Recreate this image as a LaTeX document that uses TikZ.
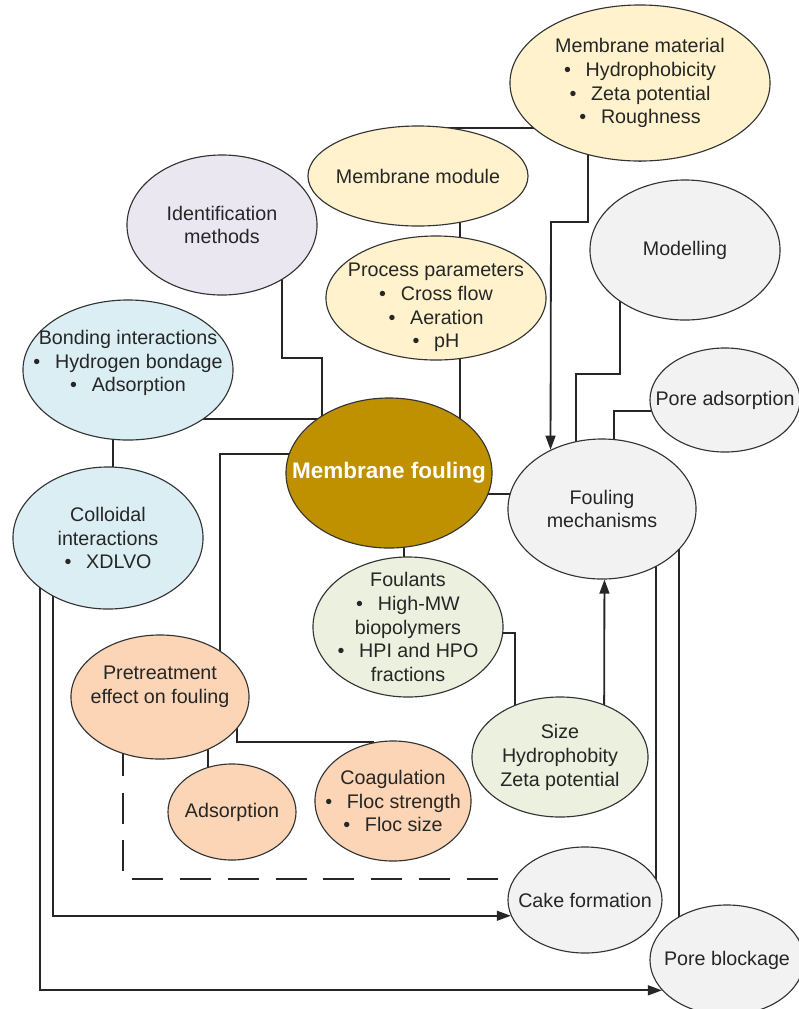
\documentclass[tikz,border=0pt]{standalone}
\usepackage{fontspec}
\setmainfont{Liberation Sans}
\usetikzlibrary{shapes.geometric,calc,backgrounds,arrows.meta}
\definecolor{matyellow}{HTML}{FFF2CC}
\definecolor{idlilac}{HTML}{EAE7F1}
\definecolor{bondblue}{HTML}{DAEEF3}
\definecolor{foulgold}{HTML}{BF9000}
\definecolor{fntgreen}{HTML}{EBF1DE}
\definecolor{prepeach}{HTML}{FBD5B5}
\definecolor{mechgray}{HTML}{F2F2F2}
\newcommand{\bl}{\textbullet\hspace{0.75em}}

\begin{document}
\begin{tikzpicture}[x=0.025cm,y=-0.025cm,>={Triangle[length=10pt,width=7pt]},
	bubble/.style 2 args={ellipse,draw=black!80,line width=0.8pt,inner sep=-1.5cm,
	minimum width=#1*0.05cm,minimum height=#2*0.05cm,align=center,text=black!85,
	font=\fontsize{14}{17}\selectfont},
	link/.style={line width=1.3pt,black!85}]
\useasboundingbox (0,0) rectangle (799,1009);
% top row
\node[bubble={130}{78},fill=matyellow] (matl) at (640,83) {Membrane material\\\bl Hydrophobicity\\\bl Zeta potential\\\bl Roughness};
\node[bubble={110}{50},fill=matyellow] (module) at (418,176) {Membrane module};
\node[bubble={95}{70},fill=idlilac] (ident) at (222,225) {Identification\\methods};
\node[bubble={110}{62},fill=matyellow] (proc) at (436,298) {\mbox{}\\[6pt]Process parameters\\\bl Cross flow\\\bl Aeration\\\bl pH};
\node[bubble={95}{70},fill=mechgray] (model) at (685,250) {Modelling};
% middle
\node[bubble={105}{70},fill=bondblue] (bond) at (128,370) {Bonding interactions\\\bl Hydrogen bondage\\\bl Adsorption\\[-4pt]\mbox{}};
\node[bubble={95}{71},fill=bondblue] (coll) at (108,538) {Colloidal\\interactions\\\bl XDLVO};
\node[bubble={103}{75},fill=foulgold,text=white,font=\bfseries\fontsize{16}{19}\selectfont] (foul) at (389,473) {Membrane fouling};
\node[bubble={75}{52},fill=mechgray] (padsorb) at (725,400) {Pore adsorption};
\node[bubble={94}{70},fill=mechgray] (mech) at (602,509) {Fouling\\mechanisms};
\node[bubble={95}{70},fill=fntgreen] (fnts) at (408,627) {Foulants\\\bl High-MW\\biopolymers\\\bl HPI and HPO\\fractions};
% bottom
\node[bubble={88}{60},fill=fntgreen] (size) at (560,757) {Size\\Hydrophobity\\Zeta potential};
\node[bubble={89}{62},fill=prepeach] (pre) at (160,697) {Pretreatment\\effect on fouling\\\mbox{}};
\node[bubble={64}{48},fill=prepeach] (adsorb) at (232,812) {Adsorption};
\node[bubble={78}{60},fill=prepeach] (coag) at (393,801) {Coagulation\\\bl Floc strength\\\bl Floc size};
\node[bubble={77}{53},fill=mechgray] (cake) at (585,900) {Cake formation};
\node[bubble={77}{55},fill=mechgray] (pblock) at (727,960) {Pore blockage};

\begin{scope}[on background layer]
\begin{scope}[link]
\draw ($(module)+(0,-48)$) -| (matl);
\draw[->] ($(matl)+(-52,0)$) |- ($(mech)+(-51,-287)$) -- (mech.131);
\draw ($(proc)+(24,0)$) coordinate (p1) -- (p1 |- module);
\draw (p1) -- (p1 |- foul);
\draw ($(ident)+(60,0)$) -- ++(0,133) -| ($(foul)+(-67,0)$);
\draw ($(foul)+(0,-54)$) coordinate (p2) -- (p2 -| bond);
\draw ($(coll)+(5,0)$) coordinate (p3) -- (p3 |- bond);
\draw ($(foul)+(0,-19)$) -| ($(pre)+(60,0)$);
\draw[->] ($(coll)+(-55,0)$) |- (cake.192.3);
\draw[->] ($(coll)+(-68,0)$) |- (pblock.205.8);
\draw ($(adsorb)+(-24,0)$) coordinate (p4) -- (p4 |- pre);
\draw ($(pre)+(77,0)$) -- ++(0,45) -| ($(coag)+(-20,0)$);
\draw[dash pattern=on 22pt off 12pt] ($(pre)+(-37,0)$) |- ($(cake)+(0,-21)$);
\draw ($(fnts)+(-4,0)$) coordinate (p5) -- (p5 |- foul);
\draw ($(foul)+(0,21)$) coordinate (p6) -- (p6 -| mech);
\draw ($(fnts)+(0,6)$) -| ($(size)+(-45,0)$);
\draw[->] ($(size)+(44,0)$) -- (mech.-88.4);
\draw ($(cake)+(71,0)$) coordinate (p7) -- (p7 |- mech);
\draw ($(mech)+(77,0)$) coordinate (p8) -- (p8 |- pblock);
\draw ($(model)+(-65,0)$) -- ++(0,124) -| ($(mech)+(-26,0)$);
\draw ($(padsorb)+(0,11)$) -| ($(mech)+(12,0)$);
\end{scope}
\end{scope}
\end{tikzpicture}
\end{document}
